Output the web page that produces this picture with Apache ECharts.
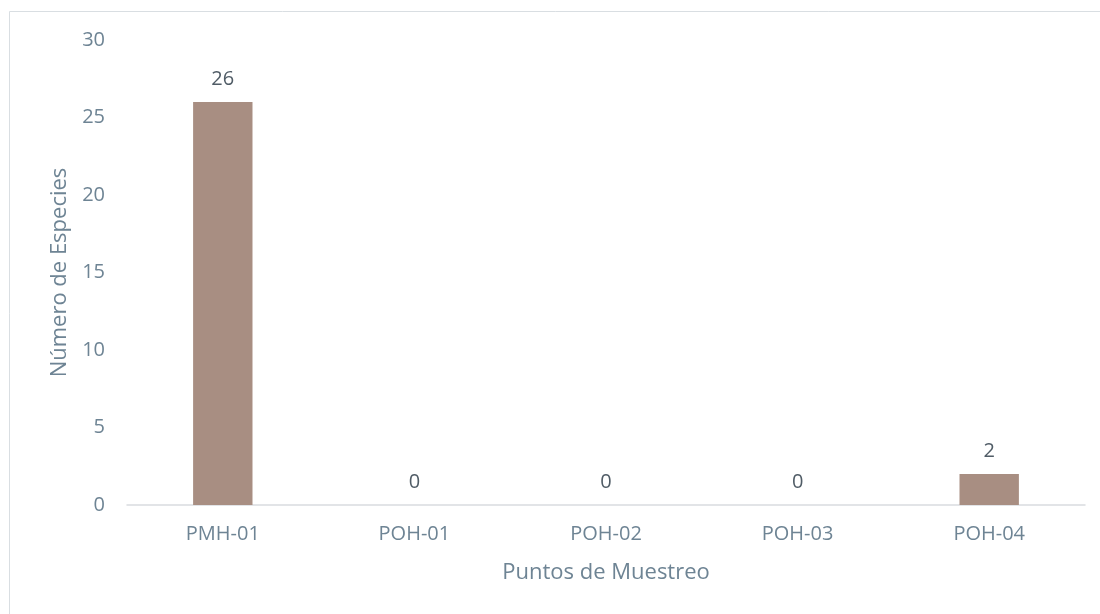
<!DOCTYPE html>
<html>
<head>
<meta charset="utf-8">
<script src="https://cdn.jsdelivr.net/npm/echarts@6/dist/echarts.min.js"></script>
<style>
  html, body { margin: 0; padding: 0; background: #fff; }
  #box { width: 1100px; height: 614px; }
</style>
</head>
<body>
<div id="box"></div>
<script>
// datos
var puntos = ['PMH-01', 'POH-01', 'POH-02', 'POH-03', 'POH-04'];
var especies = [26, 0, 0, 0, 2];

var fuente = '"Open Sans", "Noto Sans", sans-serif';
var myChart = echarts.init(document.getElementById('box'));
var option = {
  backgroundColor: '#ffffff',
  animation: false,
  graphic: [
    {
      type: 'rect',
      shape: { x: 9.5, y: 11.5, width: 1200, height: 700 },
      style: { fill: 'none', stroke: '#D9DEE2', lineWidth: 1 },
      silent: true
    }
  ],
  grid: { left: 127, right: 15, top: 40, bottom: 109 },
  xAxis: {
    type: 'category',
    data: puntos,
    name: 'Puntos de Muestreo',
    nameLocation: 'middle',
    nameGap: 57,
    nameTextStyle: { color: '#6E8494', fontSize: 22, fontFamily: fuente },
    axisLine: { lineStyle: { color: '#D9DCDF', width: 1.5 } },
    axisTick: { show: false },
    axisLabel: { color: '#6E8494', fontSize: 20, fontFamily: fuente, margin: 19 }
  },
  yAxis: {
    type: 'value',
    min: 0,
    max: 30,
    interval: 5,
    name: 'Número de Especies',
    nameLocation: 'middle',
    nameGap: 55,
    nameTextStyle: { color: '#6E8494', fontSize: 22, fontFamily: fuente },
    axisLine: { show: false },
    axisTick: { show: false },
    splitLine: { show: false },
    axisLabel: { color: '#6E8494', fontSize: 20, fontFamily: fuente, margin: 22 }
  },
  series: [
    {
      type: 'bar',
      data: especies,
      barWidth: '31%',
      itemStyle: { color: '#A88E82' },
      label: {
        show: true,
        position: 'top',
        distance: 13,
        color: '#505C66',
        fontSize: 20,
        fontFamily: fuente
      }
    }
  ]
};
myChart.setOption(option);
</script>
</body>
</html>
